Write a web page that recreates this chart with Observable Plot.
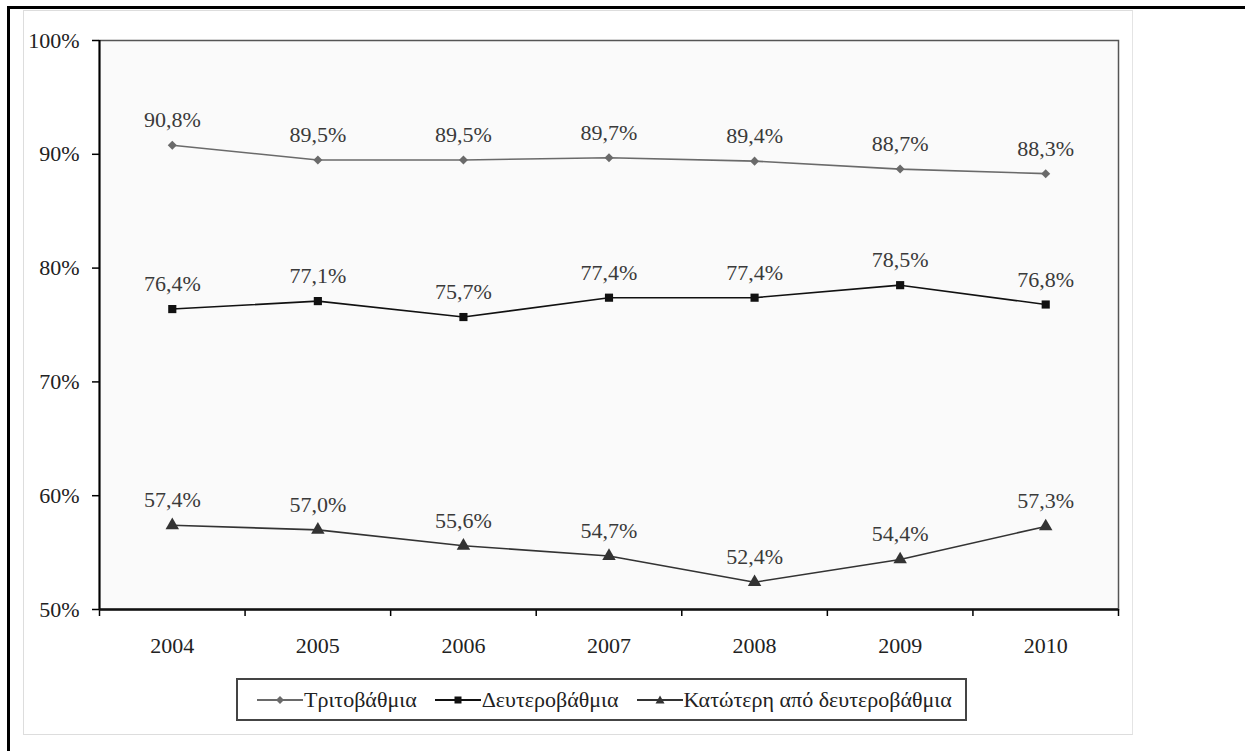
<!DOCTYPE html>
<html>
<head>
<meta charset="utf-8">
<script src="https://cdn.jsdelivr.net/npm/d3@7"></script>
<script src="https://cdn.jsdelivr.net/npm/@observablehq/plot@0.6"></script>
<style>
  html, body { margin: 0; padding: 0; background: #fff; }
  #wrap { position: relative; width: 1245px; height: 751px; overflow: hidden; font-family: "Liberation Serif", serif; }
  #outer { position: absolute; left: 7px; top: 6px; width: 1300px; height: 800px; border-left: 3px solid #000; border-top: 3px solid #000; }
  #inner { position: absolute; left: 23px; top: 10px; width: 1108px; height: 723px; border: 1px solid #ddd; border-right: 1px solid #e4e4e4; }
  #chart { position: absolute; left: 0; top: 0; }
  #legend { position: absolute; left: 236px; top: 678px; width: 727px; height: 39px; border: 2px solid #444; background: #fff;
            display: flex; align-items: center; font-size: 22px; color: #222; font-family: "Liberation Serif", serif; }
  .item { display: flex; align-items: center; }
  .item svg { display: block; }
</style>
</head>
<body>
<div id="wrap">
  <div id="outer"></div>
  <div id="inner"></div>
  <div id="chart"></div>
  <div id="legend"></div>
</div>
<script>
const years = [2004, 2005, 2006, 2007, 2008, 2009, 2010];
const tertiary = [90.8, 89.5, 89.5, 89.7, 89.4, 88.7, 88.3];
const secondary = [76.4, 77.1, 75.7, 77.4, 77.4, 78.5, 76.8];
const lower = [57.4, 57.0, 55.6, 54.7, 52.4, 54.4, 57.3];
const seriesNames = ["Τριτοβάθμια", "Δευτεροβάθμια", "Κατώτερη από δευτεροβάθμια"];
const seriesColors = ["#6a6a6a", "#111111", "#333333"];
const yTicks = [50, 60, 70, 80, 90, 100];

const seriesValues = [tertiary, secondary, lower];
const rows = [];
seriesValues.forEach((vals, s) => vals.forEach((v, i) => rows.push({year: years[i], value: v, series: seriesNames[s]})));
const bounds = years.map(y => y - 0.5).concat([years[years.length - 1] + 0.5]);
const fmt = v => v.toFixed(1).replace(".", ",") + "%";

const marks = [
  Plot.frame({fill: "#fafafa", stroke: "#555", strokeWidth: 1.5}),
  Plot.axisY({ticks: yTicks, tickFormat: d => d + "%", tickSize: 7, tickPadding: 13, fontSize: 22, stroke: "#000", strokeWidth: 1.5, label: null}),
  Plot.axisX({ticks: bounds, tickSize: 7, tickFormat: () => "", stroke: "#000", strokeWidth: 1.5, label: null}),
  Plot.axisX({ticks: years, tickSize: 0, tickPadding: 28, tickFormat: d => String(d), fontSize: 22, label: null}),
  Plot.ruleX([bounds[0]], {stroke: "#000", strokeWidth: 2}),
  Plot.ruleY([50], {stroke: "#111", strokeWidth: 2.5})
];
seriesNames.forEach((name, s) => {
  const data = rows.filter(r => r.series === name);
  marks.push(Plot.line(data, {x: "year", y: "value", stroke: seriesColors[s], strokeWidth: 1.6}));
  if (s === 0) {
    marks.push(Plot.dot(data, {x: "year", y: "value", symbol: "square", r: 3.6, rotate: 45, fill: seriesColors[s], stroke: "none"}));
  } else if (s === 1) {
    marks.push(Plot.dot(data, {x: "year", y: "value", symbol: "square", r: 4.6, fill: seriesColors[s], stroke: "none"}));
  } else {
    marks.push(Plot.dot(data, {x: "year", y: "value", symbol: "triangle", r: 5, fill: seriesColors[s], stroke: "none"}));
  }
  marks.push(Plot.text(data, {x: "year", y: "value", text: d => fmt(d.value), dy: -25, fontSize: 22, fill: "#3a3a3a", fontFamily: "Liberation Serif"}));
});

const chart = Plot.plot({
  width: 1245,
  height: 670,
  marginLeft: 99,
  marginRight: 127,
  marginTop: 40,
  marginBottom: 61,
  style: {fontFamily: "'Liberation Serif', serif", background: "transparent", color: "#222", overflow: "visible"},
  x: {type: "linear", domain: [bounds[0], bounds[bounds.length - 1]], axis: null, label: null},
  y: {domain: [50, 100], axis: null, label: null},
  marks
});
document.getElementById("chart").appendChild(chart);

// legend
const legend = document.getElementById("legend");
const gaps = [19, 18, 18];
seriesNames.forEach((name, s) => {
  const item = document.createElement("div");
  item.className = "item";
  item.style.marginLeft = gaps[s] + "px";
  const ns = "http://www.w3.org/2000/svg";
  const svg = document.createElementNS(ns, "svg");
  svg.setAttribute("width", 46); svg.setAttribute("height", 20);
  const line = document.createElementNS(ns, "line");
  line.setAttribute("x1", 0); line.setAttribute("x2", 46); line.setAttribute("y1", 10); line.setAttribute("y2", 10);
  line.setAttribute("stroke", seriesColors[s]); line.setAttribute("stroke-width", 2);
  svg.appendChild(line);
  const m = document.createElementNS(ns, "path");
  if (s === 0) m.setAttribute("d", "M23,6 L27,10 L23,14 L19,10 Z");
  else if (s === 1) m.setAttribute("d", "M19.5,6.5 H26.5 V13.5 H19.5 Z");
  else m.setAttribute("d", "M23,5.5 L27.5,13.5 L18.5,13.5 Z");
  m.setAttribute("fill", seriesColors[s]);
  svg.appendChild(m);
  item.appendChild(svg);
  const t = document.createElement("span");
  t.textContent = name;
  t.style.marginLeft = "1px";
  item.appendChild(t);
  legend.appendChild(item);
});
</script>
</body>
</html>
